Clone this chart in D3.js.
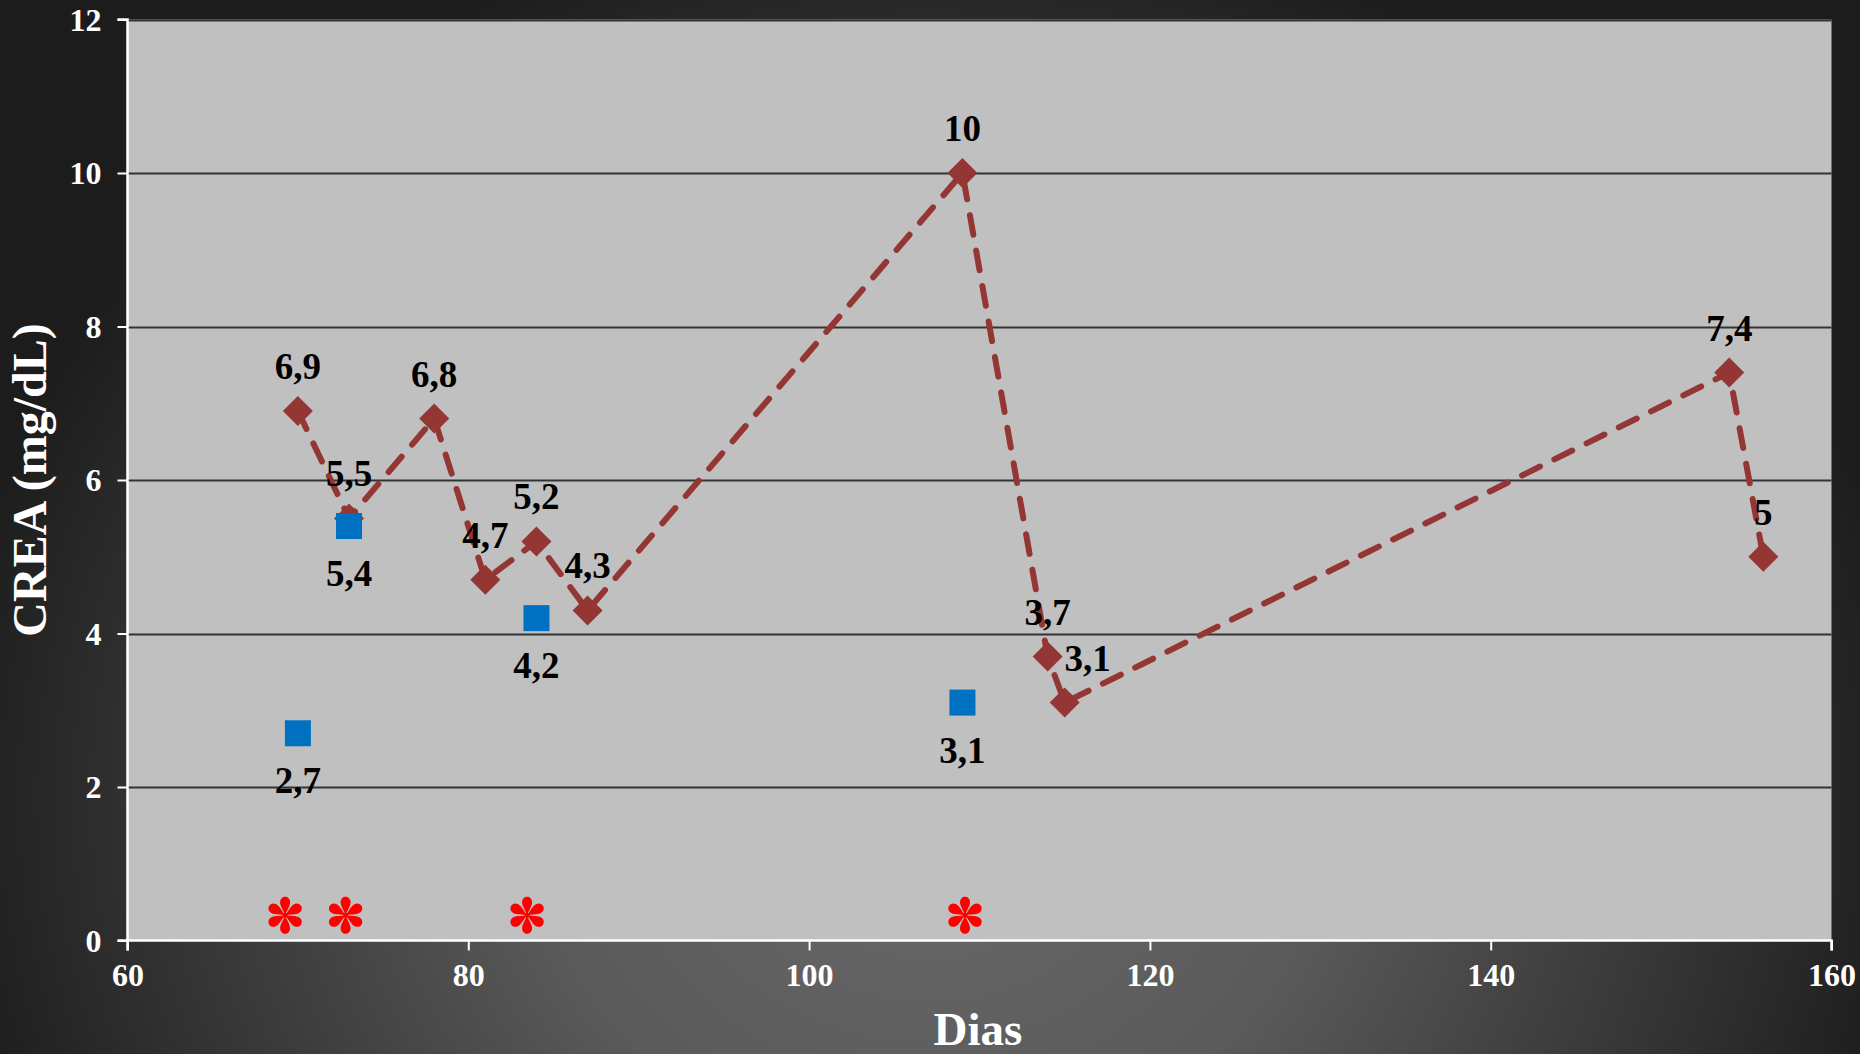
<!DOCTYPE html>
<html>
<head>
<meta charset="utf-8">
<script src="https://cdn.jsdelivr.net/npm/d3@7"></script>
<style>
html,body{margin:0;padding:0;background:#333;}
svg{display:block;}
</style>
</head>
<body>
<svg id="chart" width="1860" height="1054"></svg>
<script>
// ---- data ----
const redDays   = [70, 73, 78, 81, 84, 87, 109, 114, 115, 154, 156];
const redValues = [6.9, 5.5, 6.8, 4.7, 5.2, 4.3, 10, 3.7, 3.1, 7.4, 5];
const redLabels = ["6,9","5,5","6,8","4,7","5,2","4,3","10","3,7","3,1","7,4","5"];

const blueDays   = [70, 73, 84, 109];
const blueValues = [2.7, 5.4, 4.2, 3.1];
const blueLabels = ["2,7","5,4","4,2","3,1"];

const starDays   = [69.25, 72.8, 83.45, 109.15];
const starValues = [0.33, 0.33, 0.33, 0.33];

const xTicks = [60, 80, 100, 120, 140, 160];
const yTicks = [0, 2, 4, 6, 8, 10, 12];

const xTitle = "Dias";
const yTitle = "CREA (mg/dL)";

// ---- layout ----
const W = 1860, H = 1054;
const m = {left: 127.5, right: 1831.5, top: 19.5, bottom: 940.5};
const svg = d3.select("#chart");
const FONT = "'Liberation Serif', 'Times New Roman', serif";

const defs = svg.append("defs");
const g1 = defs.append("radialGradient").attr("id","bg")
  .attr("gradientUnits","userSpaceOnUse").attr("cx",930).attr("cy",800).attr("r",1000)
  .attr("gradientTransform","translate(930,800) scale(1,0.9) translate(-930,-800)");
g1.append("stop").attr("offset","0%").attr("stop-color","#6a6a6a");
g1.append("stop").attr("offset","40%").attr("stop-color","#5a5a5a");
g1.append("stop").attr("offset","100%").attr("stop-color","#1c1c1c");
svg.append("rect").attr("width",W).attr("height",H).attr("fill","url(#bg)");

const x = d3.scaleLinear().domain([60,160]).range([m.left, m.right]);
const y = d3.scaleLinear().domain([0,12]).range([m.bottom, m.top]);

// plot area
svg.append("rect").attr("x",m.left).attr("y",m.top)
  .attr("width",m.right-m.left).attr("height",m.bottom-m.top).attr("fill","#c0c0c0");

// gridlines
svg.append("g").selectAll("line").data(yTicks.filter(d=>d>0)).join("line")
  .attr("x1",m.left).attr("x2",m.right)
  .attr("y1",d=>Math.round(y(d))+0.5).attr("y2",d=>Math.round(y(d))+0.5)
  .attr("stroke","#333").attr("stroke-width",2);

// axes
const xAxis = d3.axisBottom(x).tickValues(xTicks).tickSize(10).tickPadding(13).tickFormat(d3.format("d"));
const yAxis = d3.axisLeft(y).tickValues(yTicks).tickSize(10).tickPadding(16).tickFormat(d3.format("d"));

const gx = svg.append("g").attr("transform",`translate(0,${m.bottom})`).call(xAxis);
const gy = svg.append("g").attr("transform",`translate(${m.left},0)`).call(yAxis);
[gx,gy].forEach(g=>{
  g.select(".domain").attr("stroke","#fff").attr("stroke-width",2.5);
  g.selectAll(".tick line").attr("stroke","#fff").attr("stroke-width",2);
  g.selectAll(".tick text").attr("fill","#fff").attr("font-family",FONT)
    .attr("font-weight","bold").attr("font-size","32px");
});
gx.select(".domain").attr("d",`M${m.left},10V0H${m.right}V10`);
gy.select(".domain").attr("d",`M-10,${m.top}H0V${m.bottom}H-10`);
gy.selectAll(".tick text").attr("dy","0.34em");

// titles
svg.append("text").attr("x",978).attr("y",1045).attr("text-anchor","middle")
  .attr("fill","#fff").attr("font-family",FONT).attr("font-weight","bold").attr("font-size","47px")
  .text(xTitle);
svg.append("text").attr("transform","translate(46,480) rotate(-90)").attr("text-anchor","middle")
  .attr("fill","#fff").attr("font-family",FONT).attr("font-weight","bold").attr("font-size","48px")
  .text(yTitle);

// red dashed line
const redData = redDays.map((d,i)=>({x:d,y:redValues[i],l:redLabels[i]}));
const line = d3.line().x(d=>x(d.x)).y(d=>y(d.y));
svg.append("path").datum(redData).attr("d",line)
  .attr("fill","none").attr("stroke","#943634").attr("stroke-width",6)
  .attr("stroke-dasharray","20 16").attr("stroke-linecap","round");

// red diamonds
const dsz = 15;
svg.append("g").selectAll("path").data(redData).join("path")
  .attr("d",d=>`M${x(d.x)},${y(d.y)-dsz}L${x(d.x)+dsz},${y(d.y)}L${x(d.x)},${y(d.y)+dsz}L${x(d.x)-dsz},${y(d.y)}Z`)
  .attr("fill","#943634");

// blue squares
const blueData = blueDays.map((d,i)=>({x:d,y:blueValues[i],l:blueLabels[i]}));
const ssz = 13;
svg.append("g").selectAll("rect").data(blueData).join("rect")
  .attr("x",d=>x(d.x)-ssz).attr("y",d=>y(d.y)-ssz).attr("width",2*ssz).attr("height",2*ssz)
  .attr("fill","#0070c0");

// labels
const lblFont = "37px";
svg.append("g").selectAll("text").data(redData).join("text")
  .attr("x",d=>x(d.x) + (d.l==="3,1" ? 23 : 0))
  .attr("y",d=>y(d.y)-32)
  .attr("text-anchor","middle").attr("fill","#000").attr("font-family",FONT)
  .attr("font-weight","bold").attr("font-size",lblFont).text(d=>d.l);
svg.append("g").selectAll("text").data(blueData).join("text")
  .attr("x",d=>x(d.x)).attr("y",d=>y(d.y)+60)
  .attr("text-anchor","middle").attr("fill","#000").attr("font-family",FONT)
  .attr("font-weight","bold").attr("font-size",lblFont).text(d=>d.l);

// red asterisks (six teardrop petals)
const starData = starDays.map((d,i)=>({x:d,y:starValues[i]}));
const petal = "M0,0 C-1.2,-4 -5,-9 -5,-13 C-5,-16.5 -2.5,-18.5 0,-18.5 C2.5,-18.5 5,-16.5 5,-13 C5,-9 1.2,-4 0,0Z";
const sg = svg.append("g").selectAll("g").data(starData).join("g")
  .attr("transform",d=>`translate(${x(d.x)},${y(d.y)})`);
sg.selectAll("path").data([0,60,120,180,240,300]).join("path")
  .attr("d",petal).attr("transform",a=>`rotate(${a})`).attr("fill","#ff0000");
sg.append("circle").attr("r",2.5).attr("fill","#ff0000");
</script>
</body>
</html>
